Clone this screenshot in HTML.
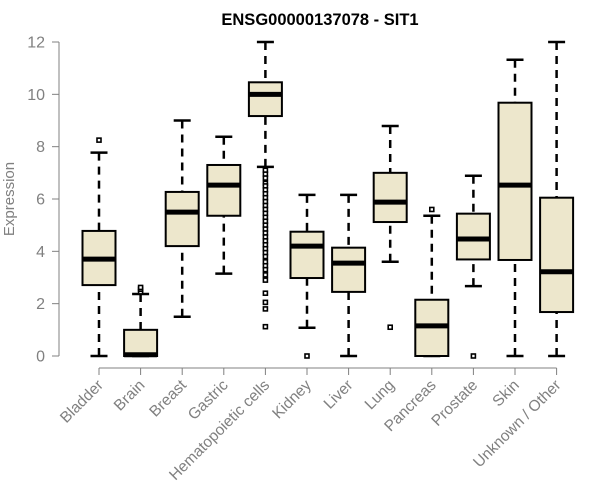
<!DOCTYPE html>
<html><head><meta charset="utf-8"><style>
body{margin:0;background:#fff;}
svg{display:block;font-family:"Liberation Sans",Arial,sans-serif;}
</style></head><body>
<svg id="chart" width="600" height="500" viewBox="0 0 600 500">
<text x="320" y="25" text-anchor="middle" font-weight="bold" font-size="16.5" fill="#000">ENSG00000137078 - SIT1</text>
<text transform="translate(14,199) rotate(-90)" text-anchor="middle" font-size="15" fill="#808080">Expression</text>
<g id="axes"></g>
<g id="boxes"></g>
</svg>
<script>
const categories=["Bladder","Brain","Breast","Gastric","Hematopoietic cells","Kidney","Liver","Lung","Pancreas","Prostate","Skin","Unknown / Other"];
const whiskLow=[0,0,1.5,3.15,7.23,1.08,0,3.6,0,2.67,0,0];
const q1=[2.71,0,4.2,5.36,9.17,2.98,2.45,5.12,0,3.69,3.67,1.68];
const medians=[3.7,0.05,5.5,6.53,10.0,4.2,3.55,5.88,1.15,4.47,6.53,3.22];
const q3=[4.78,1.0,6.27,7.3,10.46,4.75,4.14,7.0,2.15,5.44,9.68,6.05];
const whiskHigh=[7.77,2.37,9.0,8.38,12,6.16,6.16,8.79,5.36,6.89,11.32,12];
const outliers=[[8.25],[2.45,2.55,2.62],[],[],[7.1,6.95,6.8,6.6,6.5,6.35,6.2,6.05,5.9,5.75,5.6,5.45,5.3,5.15,5.0,4.85,4.7,4.55,4.4,4.25,4.1,3.95,3.8,3.6,3.45,3.3,3.1,2.9,2.4,2.05,1.8,1.12],[0],[],[1.1],[5.6],[0],[],[]];
const yTicks=[0,2,4,6,8,10,12];
const NS="http://www.w3.org/2000/svg";
const y=v=>356-v*(314/12);
const x=i=>99+i*41.6;
function mk(t,a,p){const e=document.createElementNS(NS,t);for(const k in a)e.setAttribute(k,a[k]);p.appendChild(e);return e;}
const ax=document.getElementById('axes');const bx=document.getElementById('boxes');
let yl=mk('line',{x1:59,x2:59,y1:y(12),y2:y(0),stroke:'#808080','stroke-width':1},ax);


yTicks.forEach(t=>{
 let l=mk('line',{x1:52,x2:59,y1:y(t),y2:y(t),stroke:'#808080'},ax);
 
 
 let tx=mk('text',{x:45,y:y(t)+5.5,'text-anchor':'end','font-size':16,fill:'#808080'},ax);tx.textContent=t;
 
 
});
let xl=mk('line',{x1:x(0),x2:x(11),y1:368,y2:368,stroke:'#808080'},ax);


categories.forEach((c,i)=>{
 let l=mk('line',{x1:x(i),x2:x(i),y1:368,y2:375,stroke:'#808080'},ax);
 
 
 let tx=mk('text',{transform:`translate(${x(i)+5},${386}) rotate(-45)`,'text-anchor':'end','font-size':15.5,fill:'#808080'},ax);tx.textContent=c;
 
 
 const g=mk('g',{},bx);
 
 
 const cx=x(i);
 mk('line',{x1:cx,x2:cx,y1:y(whiskHigh[i]),y2:y(q3[i]),stroke:'#000','stroke-width':2.5,'stroke-dasharray':'8,6'},g);
 mk('line',{x1:cx,x2:cx,y1:y(whiskLow[i]),y2:y(q1[i]),stroke:'#000','stroke-width':2.5,'stroke-dasharray':'8,6'},g);
 mk('line',{x1:cx-8.5,x2:cx+8.5,y1:y(whiskHigh[i]),y2:y(whiskHigh[i]),stroke:'#000','stroke-width':2.5},g);
 mk('line',{x1:cx-8.5,x2:cx+8.5,y1:y(whiskLow[i]),y2:y(whiskLow[i]),stroke:'#000','stroke-width':2.5},g);
 mk('rect',{x:cx-16.5,y:y(q3[i]),width:33,height:Math.max(y(q1[i])-y(q3[i]),0.1),fill:'#ede7cc',stroke:'#000','stroke-width':2},g);
 mk('line',{x1:cx-16.5,x2:cx+16.5,y1:y(medians[i]),y2:y(medians[i]),stroke:'#000','stroke-width':5},g);
 outliers[i].forEach(o=>{mk('rect',{x:cx-2,y:y(o)-2,width:4,height:4,fill:'#fff',stroke:'#000','stroke-width':1.6},g);});
});
</script>
</body></html>
